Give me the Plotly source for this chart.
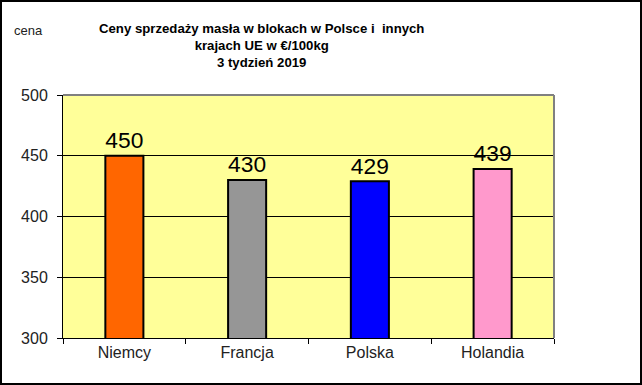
import plotly.graph_objects as go

categories = ["Niemcy", "Francja", "Polska", "Holandia"]
prices = [450, 430, 429, 439]
bar_colors = ["#FF6600", "#969696", "#0000FF", "#FF99CC"]
y_ticks = [300, 350, 400, 450, 500]

W, H = 642, 385
ml, mr, mt, mb = 63, 88, 95, 47
pw = W - ml - mr
ph = H - mt - mb

fig = go.Figure(go.Bar(
    x=categories, y=prices,
    marker=dict(color=bar_colors, line=dict(color="black", width=2)),
    width=0.31,
    text=[str(v) for v in prices],
    textposition="outside",
    textfont=dict(family="Liberation Sans, Arial", size=24, color="black"),
    cliponaxis=False,
    hoverinfo="skip",
))

fig.update_layout(
    width=W, height=H,
    margin=dict(l=ml, r=mr, t=mt, b=mb),
    paper_bgcolor="white",
    plot_bgcolor="#FFFF99",
    showlegend=False,
    font=dict(family="Liberation Sans, Arial", color="black"),
    xaxis=dict(
        tickson="boundaries", ticks="outside", ticklen=5, tickcolor="black",
        showline=True, linecolor="black", linewidth=1,
        showgrid=False,
        tickfont=dict(size=16, color="#222222"),
    ),
    yaxis=dict(
        range=[300, 500], tickvals=y_ticks,
        ticks="outside", ticklen=5, tickcolor="black",
        ticklabelstandoff=6,
        showline=True, linecolor="black", linewidth=1,
        showgrid=True, gridcolor="black", gridwidth=1,
        tickfont=dict(size=16, color="#222222"),
        zeroline=False,
    ),
    annotations=[
        dict(
            text="<b>Ceny sprzedaży masła w blokach w Polsce i  innych<br>krajach UE w €/100kg<br>3 tydzień 2019</b>",
            xref="paper", yref="paper",
            x=(261 - ml) / pw, y=1 + (mt - 46) / ph,
            xanchor="center", yanchor="middle", align="center",
            showarrow=False, font=dict(size=13.2, color="black"),
        ),
        dict(
            text="cena", xref="paper", yref="paper",
            x=-51 / pw, y=1 + 65 / ph, xanchor="left", yanchor="middle",
            showarrow=False, font=dict(size=13, color="#222222"),
        ),
    ],
    shapes=[
        dict(type="line", xref="paper", yref="paper", x0=0, x1=1, y0=1, y1=1,
             line=dict(color="#808080", width=2)),
        dict(type="line", xref="paper", yref="paper", x0=1, x1=1, y0=0, y1=1,
             line=dict(color="#808080", width=2)),
        dict(type="rect", xref="paper", yref="paper",
             x0=(-ml + 1) / pw, x1=(pw + mr - 1) / pw,
             y0=(-mb + 1) / ph, y1=(ph + mt - 1) / ph,
             line=dict(color="black", width=2)),
    ],
)

fig.write_html("out.html", config={"displayModeBar": False},
               post_script="document.body.style.margin='0';")
